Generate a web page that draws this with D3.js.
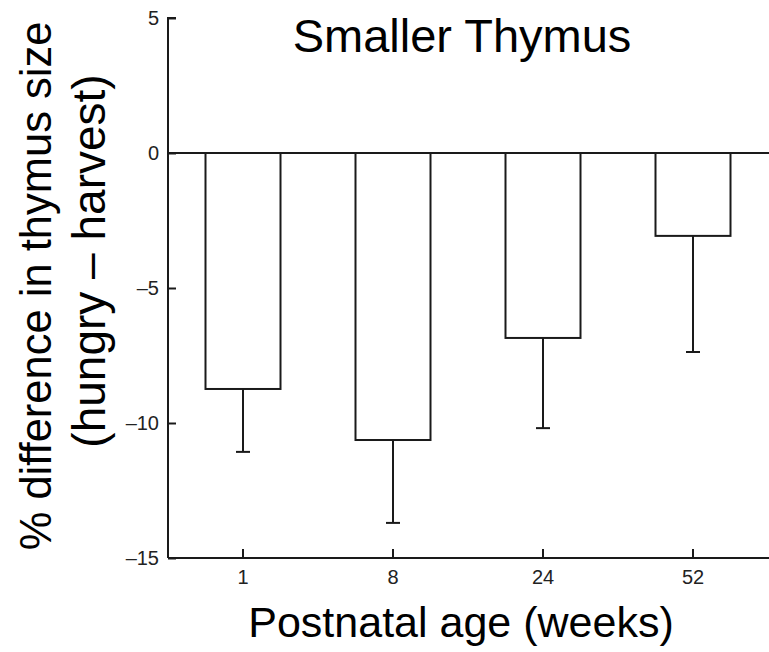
<!DOCTYPE html>
<html><head><meta charset="utf-8">
<script src="https://cdn.jsdelivr.net/npm/d3@7"></script>
<style>body{margin:0;background:#fff}svg{display:block}</style>
</head><body>
<svg id="c" width="769" height="652"></svg>
<script>
const categories = ["1", "8", "24", "52"];
const values = [-8.74, -10.63, -6.85, -3.07];
const errors = [2.33, 3.07, 3.34, 4.30];
const yTicks = [5, 0, -5, -10, -15];

const svg = d3.select("#c");
const font = "Liberation Sans, Arial, Helvetica, sans-serif";
const x = d3.scaleBand().domain(categories).range([168, 768]).paddingInner(0.5).paddingOuter(0.25);
const y = d3.scaleLinear().domain([-15, 5]).range([558, 18]);

const data = categories.map((c, i) => ({c, v: values[i], e: errors[i]}));
const col = "#1a1a1a";

// error bars (downward)
const eg = svg.append("g").attr("stroke", col).attr("stroke-width", 2);
eg.selectAll("line.v").data(data).enter().append("line")
  .attr("x1", d => x(d.c) + x.bandwidth()/2).attr("x2", d => x(d.c) + x.bandwidth()/2)
  .attr("y1", d => y(d.v)).attr("y2", d => y(d.v - d.e));
eg.selectAll("line.cap").data(data).enter().append("line")
  .attr("x1", d => x(d.c) + x.bandwidth()/2 - 7).attr("x2", d => x(d.c) + x.bandwidth()/2 + 7)
  .attr("y1", d => y(d.v - d.e)).attr("y2", d => y(d.v - d.e));

// bars
svg.append("g").selectAll("rect").data(data).enter().append("rect")
  .attr("x", d => x(d.c)).attr("width", x.bandwidth())
  .attr("y", y(0)).attr("height", d => y(d.v) - y(0))
  .attr("fill", "#fff").attr("stroke", col).attr("stroke-width", 2);

// zero line
svg.append("line").attr("x1", 168).attr("x2", 769).attr("y1", y(0)).attr("y2", y(0))
  .attr("stroke", col).attr("stroke-width", 2);

// y axis
const ya = svg.append("g").attr("transform", "translate(168,0)")
  .call(d3.axisRight(y).tickValues(yTicks).tickSize(8).tickFormat(d => d < 0 ? "\u2013" + Math.abs(d) : d));
ya.select(".domain").attr("stroke", col).attr("stroke-width", 2).attr("d", `M8,${y(5)}H0V${y(-15)}`);
ya.selectAll(".tick line").attr("stroke", col).attr("stroke-width", 2);
ya.selectAll(".tick text").attr("x", -9).attr("text-anchor", "end")
  .attr("font-family", font).attr("font-size", 20).attr("fill", "#222");

// x axis
const xa = svg.append("g").attr("transform", `translate(0,${y(-15)})`)
  .call(d3.axisBottom(x).tickSize(0));
xa.select(".domain").attr("stroke", col).attr("stroke-width", 2).attr("d", `M168,0H769`);
xa.selectAll(".tick").append("line").attr("y1", 0).attr("y2", -9).attr("stroke", col).attr("stroke-width", 2);
xa.selectAll(".tick text").attr("y", 12).attr("font-family", font).attr("font-size", 20).attr("fill", "#222");

// title
svg.append("text").attr("x", 462).attr("y", 52).attr("text-anchor", "middle")
  .attr("font-family", font).attr("font-size", 47).text("Smaller Thymus");

// x label
svg.append("text").attr("x", 461).attr("y", 637).attr("text-anchor", "middle")
  .attr("font-family", font).attr("font-size", 43).text("Postnatal age (weeks)");

// y label
const yl = svg.append("text").attr("transform", "rotate(-90)")
  .attr("font-family", font).attr("text-anchor", "middle");
yl.append("tspan").attr("x", -286).attr("y", 51).attr("font-size", 43.5).text("% difference in thymus size");
yl.append("tspan").attr("x", -261).attr("y", 105).attr("font-size", 46).text("(hungry \u2013 harvest)");
</script>
</body></html>
